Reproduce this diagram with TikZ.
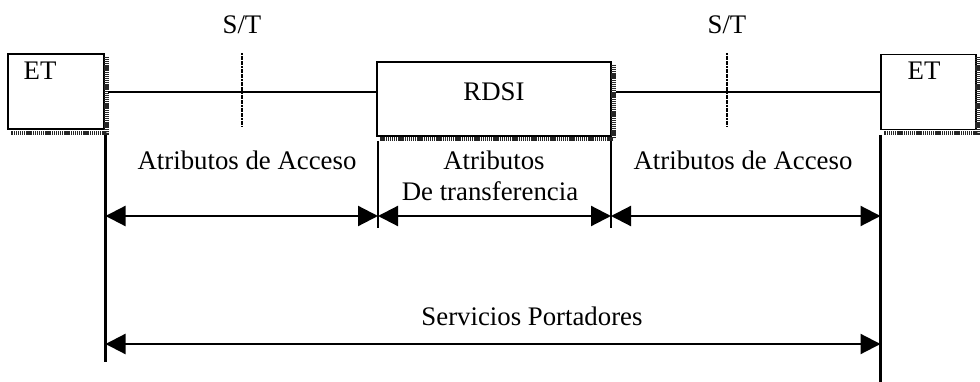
\documentclass[tikz,border=0pt]{standalone}
\usepackage{fontspec}
\setmainfont{Liberation Serif}
\usetikzlibrary{arrows.meta}
\begin{document}
\begin{tikzpicture}[x=1pt,y=-1pt,
  lbl/.style={font=\fontsize{26.8}{31}\selectfont, inner sep=0pt},
  boxn/.style={draw, line width=1.8pt, minimum height=75pt, inner sep=0pt},
  shadowline/.style={draw=black!85, line width=4.5pt, dash pattern=on 1.2pt off 0.7pt},
  ln/.style={line width=2.2pt},
  tick/.style={line width=1.3pt, dash pattern=on 2pt off 0.6pt},
  dim/.style={line width=2.2pt, {Triangle[length=20pt,width=20pt]}-{Triangle[length=20pt,width=20pt]}}
]
\useasboundingbox (0,0) rectangle (980,382);
% boxes
\node[boxn, minimum width=96pt] (etl) at (56,91.5) {};
\node[lbl] (etlt) at (40,71) {ET};
\node[boxn, minimum width=234pt, minimum height=74pt] (rdsi) at (494,99) {};
\node[lbl] (rdsit) at (494,92) {RDSI};
\node[boxn, minimum width=95pt] (etr) at (928.5,92) {};
\node[lbl] (etrt) at (924,71) {ET};
% shadows
\draw[shadowline] (106.5,57) -- (106.5,133) -- (11,133);
\draw[shadowline] (613.5,65) -- (613.5,139) -- (380,139);
\draw[shadowline] (977.5,57) -- (977.5,133) -- (884,133);
% connecting line
\coordinate (etlE) at (108,92);
\coordinate (rdW) at (rdsi.west |- 0,92);
\coordinate (rdE) at (616,92);
\coordinate (etrW) at (etr.west |- 0,92);
\draw[ln] (etlE) -- (rdW);
\draw[ln] (rdE) -- (etrW);
% S/T ticks
\node[lbl] (st1) at (242,25) {S/T};
\node[lbl] (st2) at (727,25) {S/T};
\coordinate (t1a) at (242,53); \coordinate (t1b) at (242,127);
\coordinate (t2a) at (727,53); \coordinate (t2b) at (727,127);
\draw[tick] (t1a) -- (t1b);
\draw[tick] (t2a) -- (t2b);
% vertical lines
\coordinate (vL1) at (105.5,135); \coordinate (vL2) at (105.5,362);
\coordinate (vM1) at (378,141); \coordinate (vM2) at (378,228);
\coordinate (vN1) at (611,141); \coordinate (vN2) at (611,228);
\coordinate (vR1) at (880.5,135); \coordinate (vR2) at (880.5,382);
\draw[ln] (vL1) -- (vL2);
\draw[ln] (vM1) -- (vM2);
\draw[ln] (vN1) -- (vN2);
\draw[ln] (vR1) -- (vR2);
% dimension arrows
\coordinate (a1) at (105.5,216); \coordinate (a2) at (378,216);
\coordinate (a3) at (611,216); \coordinate (a4) at (880.5,216);
\draw[dim] (a1) -- (a2);
\draw[dim] (a2) -- (a3);
\draw[dim] (a3) -- (a4);
\coordinate (b1) at (105.5,344); \coordinate (b2) at (880.5,344);
\draw[dim] (b1) -- (b2);
% labels
\node[lbl] (l1) at (247,160) {Atributos de Acceso};
\node[lbl] (l2) at (494,160) {Atributos};
\node[lbl] (l3) at (490,191) {De transferencia};
\node[lbl] (l4) at (743,160) {Atributos de Acceso};
\node[lbl] (l5) at (532,316) {Servicios Portadores};
\end{tikzpicture}
\end{document}
